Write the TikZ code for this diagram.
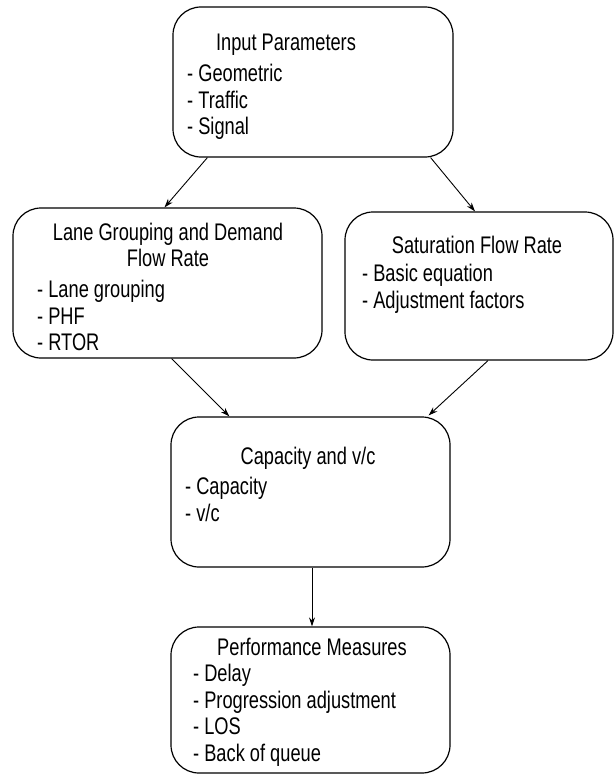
\documentclass[tikz,border=0pt]{standalone}
\usepackage{fontspec}
\setmainfont{Liberation Sans}[FakeStretch=0.76]
\usetikzlibrary{arrows.meta}
\begin{document}
\begin{tikzpicture}[x=1pt,y=-1pt,
  box/.style={draw=black,line width=1.2pt,rounded corners=28pt,inner sep=0pt},
  txt/.style={inner sep=0pt,font=\fontsize{24}{26.5}\selectfont},
  items/.style={txt,align=left,anchor=north west},
  conn/.style={draw=black,line width=0.9pt,-{Stealth[length=9pt,width=6pt]}}]
\useasboundingbox (0,0) rectangle (615,776);
% boxes
\node[box,minimum width=280pt,minimum height=150pt] (inp) at (313,82) {};
\node[box,minimum width=309pt,minimum height=150pt] (lane) at (167.5,283) {};
\node[box,minimum width=268pt,minimum height=148pt] (sat) at (479,286) {};
\node[box,minimum width=279pt,minimum height=150pt] (cap) at (310.5,492) {};
\node[box,minimum width=279pt,minimum height=146pt] (perf) at (310.5,700) {};
% texts
\node[txt] (inpT) at (286,45) {Input Parameters};
\node[items] (inpI) at (187,64) {- Geometric\\- Traffic\\- Signal};
\node[txt,align=center] (laneT) at (168,245) {Lane Grouping and Demand\\Flow Rate};
\node[items] (laneI) at (37,280) {- Lane grouping\\- PHF\\- RTOR};
\node[txt] (satT) at (477,245) {Saturation Flow Rate};
\node[items] (satI) at (362,264) {- Basic equation\\- Adjustment factors};
\node[txt] (capT) at (308,458) {Capacity and v/c};
\node[items] (capI) at (185,477) {- Capacity\\- v/c};
\node[txt] (perfT) at (312,647) {Performance Measures};
\node[items] (perfI) at (193,664) {- Delay\\- Progression adjustment\\- LOS\\- Back of queue};
% connectors
\draw[conn] ([xshift=35pt]inp.south west) -- ([xshift=-3pt]lane.north);
\draw[conn] ([xshift=-23pt]inp.south east) -- ([xshift=-4pt]sat.north);
\draw[conn] ([xshift=4pt]lane.south) -- ([xshift=59pt]cap.north west);
\draw[conn] ([xshift=9pt]sat.south) -- ([xshift=-22pt,yshift=1pt]cap.north east);
\draw[conn] ([xshift=1.5pt]cap.south) -- ([xshift=1.5pt]perf.north);
\end{tikzpicture}
\end{document}
